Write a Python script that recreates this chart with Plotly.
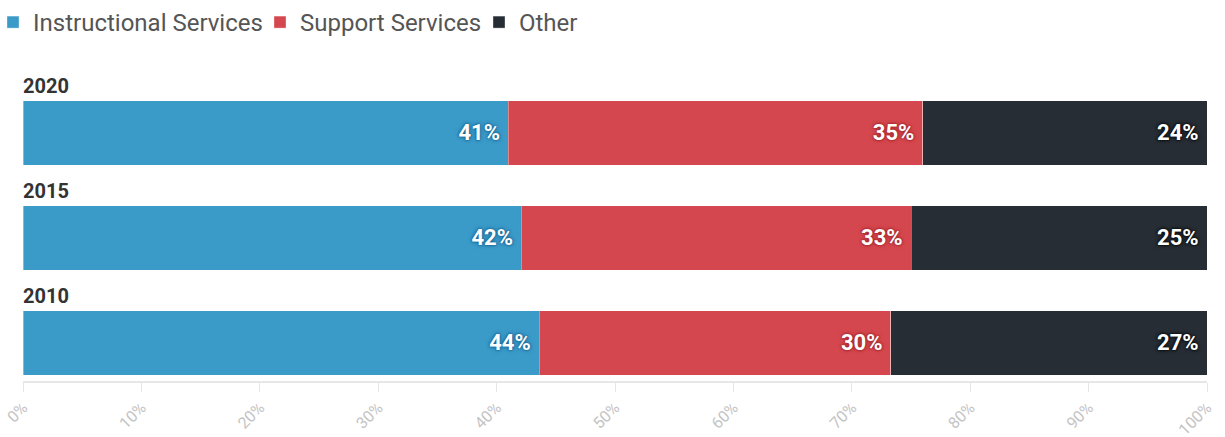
import plotly.graph_objects as go

years = ["2010", "2015", "2020"]
instructional = [43.6, 42.1, 41.0]
support = [29.7, 32.9, 35.0]
other = [26.7, 25.0, 24.0]
tick_vals = [0, 10, 20, 30, 40, 50, 60, 70, 80, 90, 100]
tick_text = [f"{v}%" for v in tick_vals]

series = [
    ("Instructional Services", instructional, "#3a9ac8", "#1b6996", "legend", -7),
    ("Support Services", support, "#d5474e", "#a3252c", "legend2", 260),
    ("Other", other, "#272d34", "#080b0e", "legend3", 479),
]

ypos = list(range(len(years)))
fig = go.Figure()
legends = {}
for name, vals, color, shadow, lg, lx in series:
    fig.add_trace(go.Bar(
        name=name, y=ypos, x=vals, orientation="h",
        width=0.61, legend=lg,
        marker=dict(color=color, line=dict(color="rgba(255,255,255,0.35)", width=1)),
        text=[f"{round(v)}%\u00a0" for v in vals],
        textposition="inside", insidetextanchor="end",
        textfont=dict(family="Roboto", size=22, color="white", weight="bold",
                      shadow=f"0px 0px 2px {shadow}, 0px 0px 2px {shadow}, 0px 0px 4px {shadow}"),
        hoverinfo="x+name",
    ))
    legends[lg] = dict(orientation="h", x=(lx - 23) / 1184, xref="paper", y=1.0, yref="container",
                       xanchor="left", yanchor="top", font=dict(family="Roboto", size=24, color="#555555"),
                       itemclick=False, itemdoubleclick=False, bgcolor="rgba(0,0,0,0)")

for i, yr in enumerate(years):
    fig.add_annotation(x=0, y=i + 0.305, xref="x", yref="y", text=yr,
                       showarrow=False, xanchor="left", yanchor="bottom", yshift=1, xshift=-2,
                       font=dict(family="Roboto", size=20, color="#333333", weight="bold"))

fig.update_layout(
    barmode="stack",
    width=1225, height=437,
    margin=dict(l=23, r=18, t=60, b=56, autoexpand=False),
    paper_bgcolor="white", plot_bgcolor="white",
    font=dict(family="Roboto", color="#555555"),
    showlegend=True,
    **legends,
    xaxis=dict(range=[0, 100], tickvals=tick_vals, ticktext=tick_text, tickangle=-45,
               showgrid=False, zeroline=False, showline=True, linecolor="#e6e6e6",
               linewidth=2, ticks="outside", ticklen=9, tickcolor="#e6e6e6", automargin=False,
               tickfont=dict(family="Roboto", size=16, color="#c4c4c4"), fixedrange=True),
    yaxis=dict(range=[-0.362, 2.695], showticklabels=False, showgrid=False, automargin=False,
               zeroline=False, showline=False, fixedrange=True),
)

fig.write_html("out.html")
